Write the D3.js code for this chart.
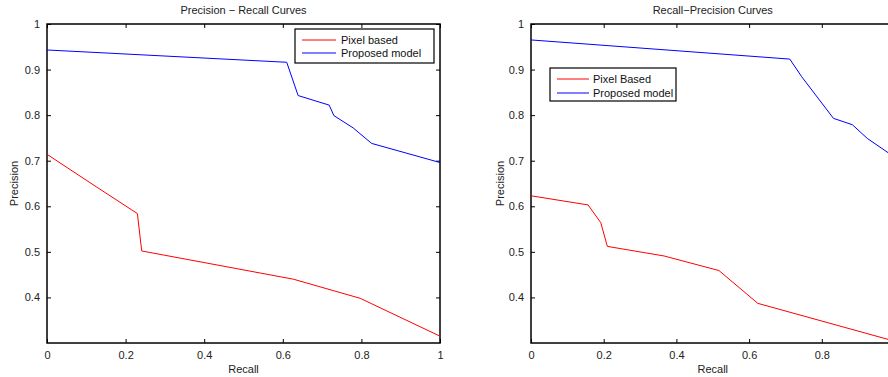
<!DOCTYPE html>
<html><head><meta charset="utf-8">
<script src="https://cdn.jsdelivr.net/npm/d3@7"></script>
<style>body{margin:0;background:#fff}svg{display:block;font-family:"Liberation Sans",Arial,sans-serif}</style>
</head><body><svg id="c" width="888" height="377"></svg>
<script>
// Left chart data
const leftTitle = "Precision \u2212 Recall Curves";
const leftPixelRecall = [0, 0.125, 0.23, 0.241, 0.627, 0.797, 1.0];
const leftPixelPrec   = [0.714, 0.643, 0.584, 0.502, 0.440, 0.398, 0.315];
const leftPropRecall  = [0, 0.61, 0.639, 0.718, 0.730, 0.779, 0.826, 1.0];
const leftPropPrec    = [0.943, 0.916, 0.843, 0.822, 0.799, 0.772, 0.738, 0.696];
const leftLegend = ["Pixel based", "Proposed model"];
// Right chart data
const rightTitle = "Recall\u2212Precision Curves";
const rightPixelRecall = [0, 0.157, 0.192, 0.21, 0.366, 0.517, 0.624, 1.0];
const rightPixelPrec   = [0.623, 0.603, 0.564, 0.512, 0.491, 0.459, 0.387, 0.304];
const rightPropRecall  = [0, 0.712, 0.745, 0.832, 0.884, 0.925, 1.0];
const rightPropPrec    = [0.965, 0.923, 0.884, 0.793, 0.779, 0.749, 0.708];
const rightLegend = ["Pixel Based", "Proposed model"];
const xTicks = [0, 0.2, 0.4, 0.6, 0.8, 1];
const yTicks = [0.4, 0.5, 0.6, 0.7, 0.8, 0.9, 1];
const seriesColors = ["#ff0000", "#0000ff"];
const W = 888;

const svg = d3.select("#c");

function panel(cfg){
  const x = d3.scaleLinear().domain([0,1]).range([cfg.x0, cfg.x1]);
  const y = d3.scaleLinear().domain([0.3,1]).range([343, 24]);
  const g = svg.append("g");
  const visX = xTicks.filter(t => x(t) < W - 4);
  const xb = d3.axisBottom(x).tickValues(visX).tickSize(-4).tickPadding(8).tickFormat(d=>d3.format("")(d));
  const xt = d3.axisTop(x).tickValues(visX).tickSize(-4).tickFormat("");
  const yl = d3.axisLeft(y).tickValues(yTicks).tickSize(-4).tickPadding(7).tickFormat(d=>d3.format("")(d));
  const yr = d3.axisRight(y).tickValues(yTicks).tickSize(-4).tickFormat("");
  const ab = g.append("g").attr("transform",`translate(0,343)`).call(xb);
  const at = g.append("g").attr("transform",`translate(0,24)`).call(xt);
  const al = g.append("g").attr("transform",`translate(${cfg.x0},0)`).call(yl);
  const ar = g.append("g").attr("transform",`translate(${cfg.x1},0)`).call(yr);
  [ab,at,al,ar].forEach(a=>{
    a.selectAll(".domain").remove();
    a.selectAll("line").attr("stroke","#000").attr("stroke-width",1);
    a.selectAll("text").attr("fill","#222").style("font-size","11px").style("font-family","Liberation Sans, Arial, sans-serif");
  });
  g.append("rect").attr("x",cfg.x0).attr("y",24).attr("width",cfg.x1-cfg.x0).attr("height",319)
    .attr("fill","none").attr("stroke","#000").attr("stroke-width",1.5);
  const line = d3.line().x(d=>x(d[0])).y(d=>y(d[1]));
  cfg.series.forEach((s,i)=>{
    g.append("path").datum(d3.zip(s.r,s.p)).attr("d",line)
      .attr("fill","none").attr("stroke",seriesColors[i]).attr("stroke-width",1);
  });
  g.append("text").attr("x",(cfg.x0+cfg.x1)/2).attr("y",14).attr("text-anchor","middle")
    .style("font-size","11px").attr("fill","#222").text(cfg.title);
  g.append("text").attr("x",(cfg.x0+cfg.x1)/2).attr("y",373).attr("text-anchor","middle")
    .style("font-size","11px").attr("fill","#222").text("Recall");
  g.append("text").attr("transform",`translate(${cfg.ylx},183.5) rotate(-90)`).attr("text-anchor","middle")
    .style("font-size","11px").attr("fill","#222").text("Precision");
  const L = cfg.legend;
  const lg = g.append("g");
  lg.append("rect").attr("x",L.x).attr("y",L.y).attr("width",L.w).attr("height",L.h)
    .attr("fill","#fff").attr("stroke","#000").attr("stroke-width",1.2);
  L.labels.forEach((t,i)=>{
    const yy = L.y + L.r0 + i*L.dy;
    lg.append("line").attr("x1",L.lx1).attr("x2",L.lx2).attr("y1",yy).attr("y2",yy)
      .attr("stroke",seriesColors[i]).attr("stroke-width",1);
    lg.append("text").attr("x",L.tx).attr("y",yy).attr("dy","0.35em")
      .style("font-size","11px").attr("fill","#111").text(t);
  });
}

panel({x0:47, x1:440, title:leftTitle, ylx:18,
  series:[{r:leftPixelRecall,p:leftPixelPrec},{r:leftPropRecall,p:leftPropPrec}],
  legend:{x:295,y:29,w:139,h:34,r0:11,dy:13,lx1:302,lx2:336,tx:341,labels:leftLegend}});
panel({x0:531, x1:894.5, title:rightTitle, ylx:504,
  series:[{r:rightPixelRecall,p:rightPixelPrec},{r:rightPropRecall,p:rightPropPrec}],
  legend:{x:550,y:68,w:126,h:33,r0:11,dy:14,lx1:557,lx2:589,tx:593,labels:rightLegend}});
</script></body></html>
